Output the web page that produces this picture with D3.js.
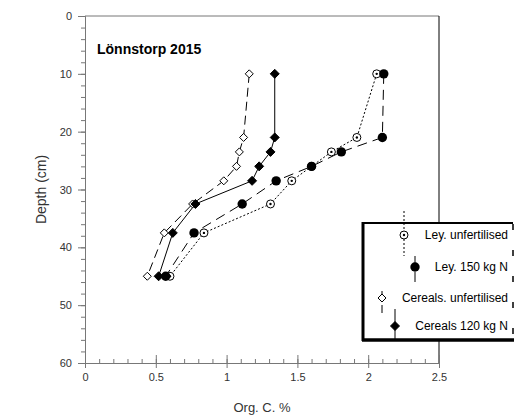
<!DOCTYPE html>
<html>
<head>
<meta charset="utf-8">
<script src="https://cdnjs.cloudflare.com/ajax/libs/d3/7.8.5/d3.min.js"></script>
<style>
  body { margin: 0; background: #fff; }
  svg { font-family: "Liberation Sans", Arial, sans-serif; }
</style>
</head>
<body>
<div id="chart"></div>
<script>
// depths (cm) of the sampling points
var depths = [10, 21, 23.5, 26, 28.5, 32.5, 37.5, 45];

// Org. C. % per series
var leyUnfert   = [2.06, 1.92, 1.74, 1.60, 1.46, 1.31, 0.84, 0.60];
var ley150      = [2.11, 2.10, 1.81, 1.60, 1.35, 1.11, 0.77, 0.57];
var cerUnfert   = [1.16, 1.12, 1.09, 1.07, 0.98, 0.76, 0.56, 0.44];
var cer120      = [1.34, 1.34, 1.31, 1.23, 1.18, 0.78, 0.62, 0.52];

var seriesNames = ["Ley. unfertilised", "Ley. 150 kg N", "Cereals. unfertilised", "Cereals 120 kg N"];
var xTicks = [0, 0.5, 1, 1.5, 2, 2.5];
var yTicks = [0, 10, 20, 30, 40, 50, 60];

var width = 528,
    height = 415;

var x = d3.scaleLinear().domain([0, 2.5]).range([85, 439]);
var y = d3.scaleLinear().domain([0, 60]).range([16, 363]);

var svg = d3.select("#chart").append("svg")
    .attr("width", width)
    .attr("height", height);

var axisColor = "#777";

// frame top + right
svg.append("line")
    .attr("x1", x(0)).attr("x2", x(2.5))
    .attr("y1", y(0)).attr("y2", y(0))
    .attr("stroke", axisColor);
svg.append("line")
    .attr("x1", x(2.5)).attr("x2", x(2.5))
    .attr("y1", y(0)).attr("y2", y(60))
    .attr("stroke", "#000");

// y axis
var yMinor = svg.append("g")
    .attr("transform", "translate(" + x(0) + ",0)")
    .call(d3.axisLeft(y).tickValues(d3.range(0, 61, 2)).tickSize(4).tickFormat(""));
var yMajor = svg.append("g")
    .attr("transform", "translate(" + x(0) + ",0)")
    .call(d3.axisLeft(y).tickValues(yTicks).tickSize(7).tickPadding(6).tickSizeOuter(0));

// x axis
var xMinor = svg.append("g")
    .attr("transform", "translate(0," + y(60) + ")")
    .call(d3.axisTop(x).tickValues(d3.range(0, 2.51, 0.1)).tickSize(4).tickFormat(""));
var xMajorUp = svg.append("g")
    .attr("transform", "translate(0," + y(60) + ")")
    .call(d3.axisTop(x).tickValues(xTicks).tickSize(8).tickFormat(""));
var xMajor = svg.append("g")
    .attr("transform", "translate(0," + y(60) + ")")
    .call(d3.axisBottom(x).tickValues(xTicks).tickSize(5).tickPadding(5).tickSizeOuter(0)
      .tickFormat(function(d) { return String(d); }));

svg.selectAll(".domain, .tick line").attr("stroke", axisColor);
svg.selectAll(".tick text")
    .attr("fill", "#333")
    .style("font-size", "11px")
    .style("font-family", "'Liberation Sans', Arial, sans-serif");

// axis titles
svg.append("text")
    .attr("transform", "translate(42," + y(30) + ") rotate(-90)")
    .attr("text-anchor", "middle")
    .attr("dominant-baseline", "middle")
    .attr("fill", "#333")
    .style("font-size", "14px")
    .text("Depth (cm)");

svg.append("text")
    .attr("x", (x(0) + x(2.5)) / 2)
    .attr("y", 412)
    .attr("text-anchor", "middle")
    .attr("fill", "#333")
    .style("font-size", "13px")
    .text("Org. C. %");

// title
svg.append("text")
    .attr("x", 97)
    .attr("y", 54)
    .style("font-size", "14px")
    .style("font-weight", "bold")
    .text("Lönnstorp 2015");

// series definitions
var series = [
  { name: seriesNames[2], vals: cerUnfert, dash: "9,5", marker: "diamondOpen" },
  { name: seriesNames[3], vals: cer120, dash: null, marker: "diamondFilled" },
  { name: seriesNames[0], vals: leyUnfert, dash: "2,2", marker: "circleOpen" },
  { name: seriesNames[1], vals: ley150, dash: "10,6", marker: "circleFilled" }
];

var line = d3.line()
    .x(function(d) { return x(d.v); })
    .y(function(d) { return y(d.depth); });

series.forEach(function(s) {
  s.points = s.vals.map(function(v, i) { return { v: v, depth: depths[i] }; });
});

svg.append("g").selectAll("path")
    .data(series)
  .enter().append("path")
    .attr("d", function(s) { return line(s.points); })
    .attr("fill", "none")
    .attr("stroke", "#000")
    .attr("stroke-width", 1)
    .attr("stroke-dasharray", function(s) { return s.dash; });

function drawMarker(g, type, cx, cy) {
  if (type === "diamondOpen" || type === "diamondFilled") {
    var r = type === "diamondOpen" ? 4 : 4.5;
    g.append("path")
      .attr("d", "M" + cx + "," + (cy - r) + "L" + (cx + r) + "," + cy + "L" + cx + "," + (cy + r) + "L" + (cx - r) + "," + cy + "Z")
      .attr("fill", type === "diamondOpen" ? "#fff" : "#000")
      .attr("stroke", "#000")
      .attr("stroke-width", 1);
  } else if (type === "circleOpen") {
    g.append("circle").attr("cx", cx).attr("cy", cy).attr("r", 4)
      .attr("fill", "#fff").attr("stroke", "#000").attr("stroke-width", 1);
    g.append("circle").attr("cx", cx).attr("cy", cy).attr("r", 1.2).attr("fill", "#000");
  } else {
    g.append("circle").attr("cx", cx).attr("cy", cy).attr("r", 4.7).attr("fill", "#000");
  }
}

var markers = svg.append("g");
series.forEach(function(s) {
  s.points.forEach(function(p) {
    drawMarker(markers, s.marker, x(p.v), y(p.depth));
  });
});

// legend
var lg = svg.append("g");
lg.append("rect")
    .attr("x", 363).attr("y", 223)
    .attr("width", 150).attr("height", 117)
    .attr("fill", "#fff").attr("stroke", "none");
lg.append("line").attr("x1", 362).attr("x2", 513).attr("y1", 223).attr("y2", 223)
    .attr("stroke", "#000").attr("stroke-width", 2);
lg.append("line").attr("x1", 363).attr("x2", 363).attr("y1", 222).attr("y2", 341)
    .attr("stroke", "#000").attr("stroke-width", 3);
lg.append("line").attr("x1", 362).attr("x2", 514).attr("y1", 340).attr("y2", 340)
    .attr("stroke", "#000").attr("stroke-width", 3.5);
lg.append("line").attr("x1", 513).attr("x2", 513).attr("y1", 224).attr("y2", 338)
    .attr("stroke", "#000").attr("stroke-width", 1.5)
    .attr("stroke-dasharray", "6,20");

var legendItems = [
  { s: series[2], mx: 404, my: 235, y1: 211, y2: 256 },
  { s: series[3], mx: 415, my: 267, y1: 256, y2: 283 },
  { s: series[0], mx: 382, my: 298, y1: 291, y2: 313 },
  { s: series[1], mx: 395, my: 326, y1: 309, y2: 339 }
];

legendItems.forEach(function(it) {
  lg.append("line")
    .attr("x1", it.mx).attr("x2", it.mx)
    .attr("y1", it.y1).attr("y2", it.y2)
    .attr("stroke", "#000")
    .attr("stroke-dasharray", it.s.dash);
  drawMarker(lg, it.s.marker, it.mx, it.my);
  lg.append("text")
    .attr("x", 508)
    .attr("y", it.my + 4)
    .attr("text-anchor", "end")
    .style("font-size", "12px")
    .text(it.s.name);
});
</script>
</body>
</html>
